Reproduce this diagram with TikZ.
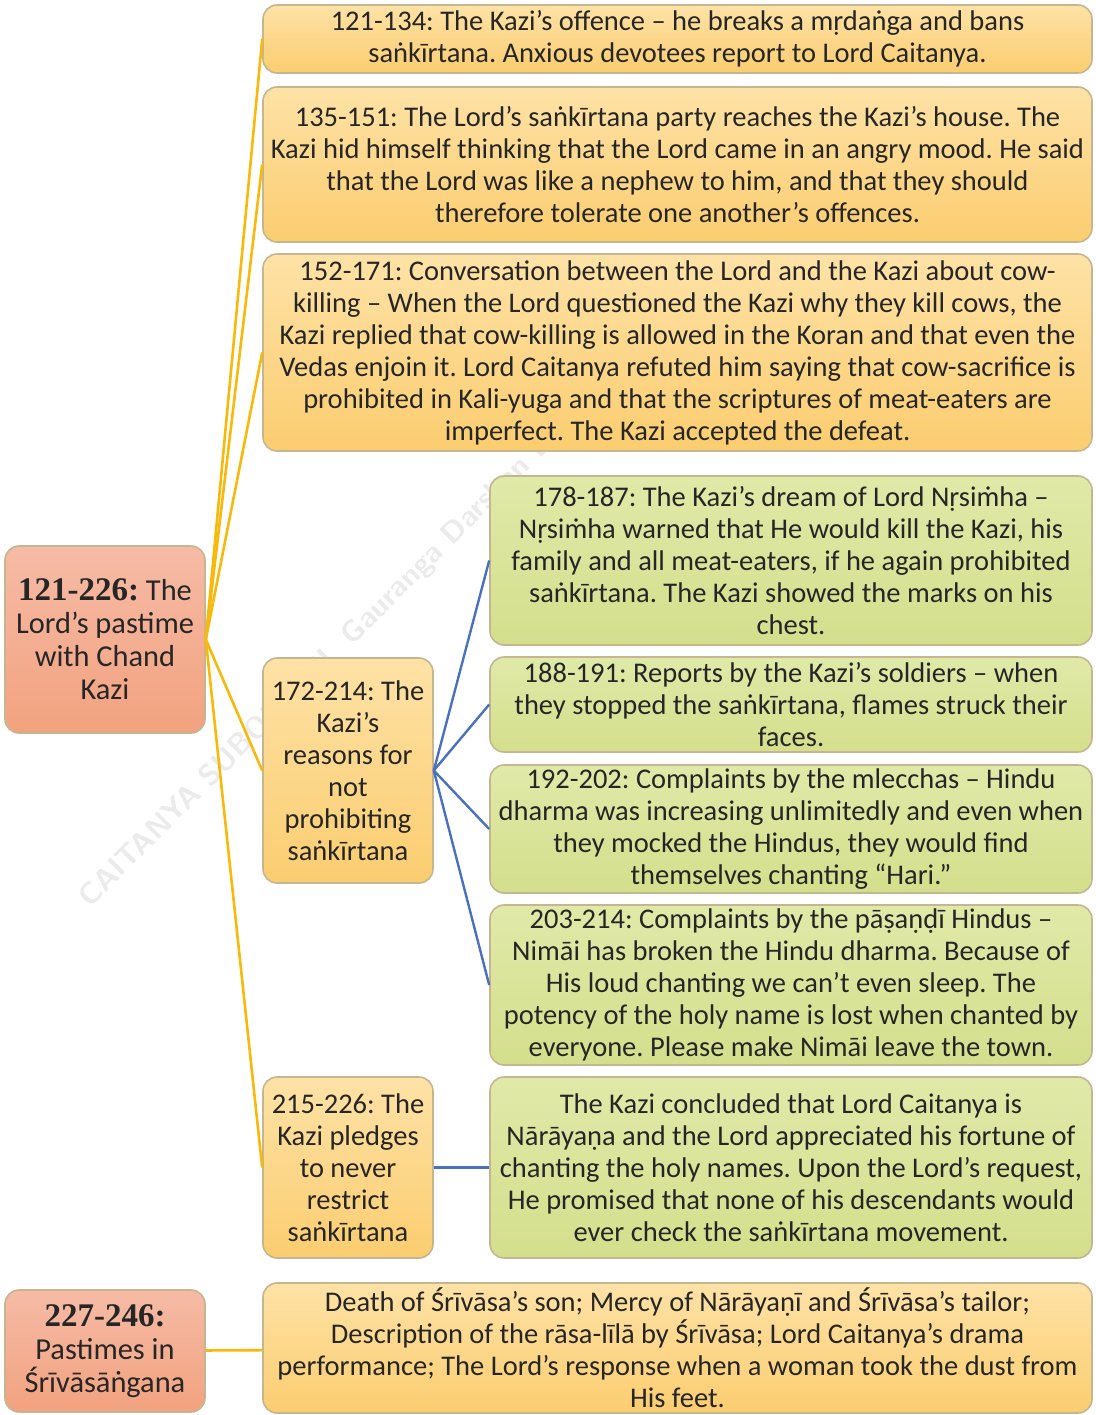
\documentclass[tikz,border=0pt]{standalone}
\usepackage{fontspec}
\setmainfont{Carlito}
\newfontfamily\versefont{Liberation Serif}
\usepackage{xcolor}
\usepackage{tikz}
\frenchspacing

\definecolor{cardedge}{HTML}{C4B690}
\definecolor{salmontop}{HTML}{F6BBA6}
\definecolor{salmonbot}{HTML}{F2A27F}
\definecolor{orangetop}{HTML}{FEE2A6}
\definecolor{orangebot}{HTML}{FBCD70}
\definecolor{greentop}{HTML}{E1E9A8}
\definecolor{greenbot}{HTML}{D4DF8C}
\definecolor{linkyellow}{HTML}{F8B90A}
\definecolor{linkblue}{HTML}{4A70C0}

\tikzset{
  card/.style={draw=cardedge, line width=0.8pt, rounded corners=7pt,
    align=center, inner sep=0pt, text=black!85,
    font=\fontsize{14.25}{16}\selectfont},
  kazibox/.style={card, top color=salmontop, bottom color=salmonbot,
    font=\fontsize{15.2}{16.5}\selectfont},
  topicbox/.style={card, top color=orangetop, bottom color=orangebot},
  detailbox/.style={card, top color=greentop, bottom color=greenbot},
  trunk/.style={draw=linkyellow, line width=1.3pt},
  branch/.style={draw=linkblue, line width=1.2pt},
}

\begin{document}
\begin{tikzpicture}[x=0.5pt,y=-0.5pt]
\useasboundingbox (0,0) rectangle (1096,1415);

% watermark
\node[rotate=45, text=black!8, font=\sffamily\bfseries\fontsize{15}{15}\selectfont] (WM) at (328,660)
{CAITANYA SUBODHINI \ Gauranga Darshan Das};

% first level
\node[kazibox, minimum width=100pt, minimum height=93.5pt] (K) at (105,639.5)
{{\versefont\bfseries\fontsize{16.5}{16.5}\selectfont 121-226:} The\\ Lord’s pastime\\ with Chand\\ Kazi};
\node[kazibox, minimum width=100pt, minimum height=61pt] (S) at (105,1351)
{{\versefont\bfseries\fontsize{16.5}{16.5}\selectfont 227-246:}\\ Pastimes in\\ Śrīvāsāṅgana};

% second level
\node[topicbox, minimum width=414.5pt, minimum height=34pt] (O) at (677.5,39)
{121-134: The Kazi’s offence – he breaks a mṛdaṅga and bans\\
saṅkīrtana. Anxious devotees report to Lord Caitanya.};
\node[topicbox, minimum width=414.5pt, minimum height=77.5pt] (H) at (677.5,164.5)
{135-151: The Lord’s saṅkīrtana party reaches the Kazi’s house. The\\
Kazi hid himself thinking that the Lord came in an angry mood. He said\\
that the Lord was like a nephew to him, and that they should\\
therefore tolerate one another’s offences.};
\node[topicbox, minimum width=414.5pt, minimum height=98.5pt] (C) at (677.5,352.5)
{152-171: Conversation between the Lord and the Kazi about cow-\\
killing – When the Lord questioned the Kazi why they kill cows, the\\
Kazi replied that cow-killing is allowed in the Koran and that even the\\
Vedas enjoin it. Lord Caitanya refuted him saying that cow-sacrifice is\\
prohibited in Kali-yuga and that the scriptures of meat-eaters are\\
imperfect. The Kazi accepted the defeat.};
\node[topicbox, minimum width=85pt, minimum height=112.5pt] (R) at (348,770.5)
{172-214: The\\ Kazi’s\\ reasons for\\ not\\ prohibiting\\ saṅkīrtana};
\node[topicbox, minimum width=85pt, minimum height=90.5pt] (P) at (348,1167.5)
{215-226: The\\ Kazi pledges\\ to never\\ restrict\\ saṅkīrtana};
\node[topicbox, minimum width=414.5pt, minimum height=65pt] (D) at (677.5,1348)
{Death of Śrīvāsa’s son; Mercy of Nārāyaṇī and Śrīvāsa’s tailor;\\
Description of the rāsa-līlā by Śrīvāsa; Lord Caitanya’s drama\\
performance; The Lord’s response when a woman took the dust from\\
His feet.};

% third level
\node[detailbox, minimum width=301pt, minimum height=84.5pt] (R1) at (791,560.5)
{178-187: The Kazi’s dream of Lord Nṛsiṁha –\\
Nṛsiṁha warned that He would kill the Kazi, his\\
family and all meat-eaters, if he again prohibited\\
saṅkīrtana. The Kazi showed the marks on his\\
chest.};
\node[detailbox, minimum width=301pt, minimum height=47.5pt] (R2) at (791,704.5)
{188-191: Reports by the Kazi’s soldiers – when\\
they stopped the saṅkīrtana, flames struck their\\
faces.};
\node[detailbox, minimum width=301pt, minimum height=64pt] (R3) at (791,829)
{192-202: Complaints by the mlecchas – Hindu\\
dharma was increasing unlimitedly and even when\\
they mocked the Hindus, they would find\\
themselves chanting “Hari.”};
\node[detailbox, minimum width=301pt, minimum height=80pt] (R4) at (791,985)
{203-214: Complaints by the pāṣaṇḍī Hindus –\\
Nimāi has broken the Hindu dharma. Because of\\
His loud chanting we can’t even sleep. The\\
potency of the holy name is lost when chanted by\\
everyone. Please make Nimāi leave the town.};
\node[detailbox, minimum width=301pt, minimum height=90.5pt] (P1) at (791,1167.5)
{The Kazi concluded that Lord Caitanya is\\
Nārāyaṇa and the Lord appreciated his fortune of\\
chanting the holy names. Upon the Lord’s request,\\
He promised that none of his descendants would\\
ever check the saṅkīrtana movement.};

% connectors
\foreach \t in {O,H,C,R,P}
  \draw[trunk] (K.east) -- (\t.west);
\draw[trunk] (S) -- (D);
\foreach \t in {R1,R2,R3,R4}
  \draw[branch] (R.east) -- (\t.west);
\draw[branch] (P) -- (P1);
\end{tikzpicture}
\end{document}
